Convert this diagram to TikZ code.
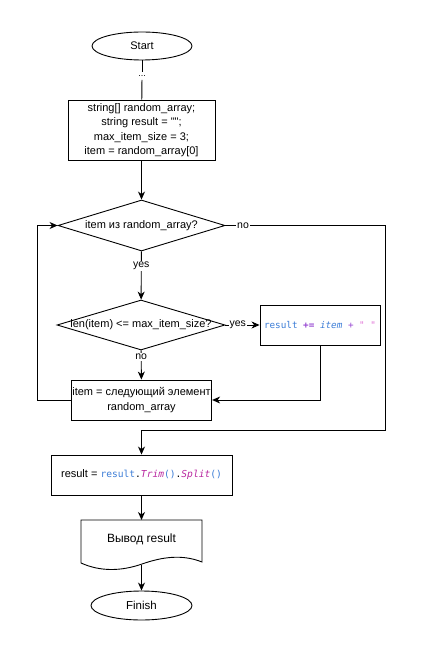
\documentclass[tikz,border=0pt]{standalone}
\usepackage{fontspec}
\setmainfont{Liberation Sans}[Ligatures=TeXOff]
\newfontfamily\codefont{DejaVu Sans Mono}[Ligatures=TeXOff]
\usetikzlibrary{shapes.geometric,arrows.meta}
\definecolor{cblue}{RGB}{60,125,215}
\definecolor{cpurple}{RGB}{150,70,210}
\definecolor{cpink}{RGB}{225,115,215}
\definecolor{cmag}{RGB}{185,40,160}
\tikzset{
  base/.style={font=\fontsize{11}{14.5}\selectfont, align=center, line width=0.9pt},
  term/.style={base, draw, ellipse, inner sep=0pt},
  proc/.style={base, draw, rectangle, inner sep=1pt},
  dia/.style={base, draw, diamond, inner sep=0pt},
  txt/.style={base, inner sep=0pt},
  lbl/.style={font=\fontsize{10.5}{12}\selectfont, fill=white, inner sep=1pt},
  arr/.style={line width=0.9pt, -{Stealth[length=8pt,width=7pt,inset=2.5pt]}},
  ln/.style={line width=0.9pt}
}
\begin{document}
\begin{tikzpicture}[x=1pt,y=-1pt]
\useasboundingbox[fill=white] (0,0) rectangle (425,652);

\node[term, minimum width=100pt, minimum height=28pt] (start) at (142,46) {Start};
\node[txt, inner sep=3pt, font=\fontsize{9}{10}\selectfont] (dots) at (142,76) {...};
\node[proc, minimum width=147pt, minimum height=60pt] (init) at (141.5,130)
  {string[] random\_array;\\ string result = "";\\ max\_item\_size = 3;\\ item = random\_array[0]};
\node[dia, minimum width=167pt, minimum height=51pt] (d1) at (141.5,225.5) {};
\node[txt] (d1t) at (d1) {item из random\_array?};
\node[dia, minimum width=168pt, minimum height=50pt] (d2) at (141,325) {};
\node[txt] (d2t) at (d2) {len(item) <= max\_item\_size?};
\node[proc, minimum width=120pt, minimum height=40pt, font=\codefont\fontsize{9.3}{11}\selectfont] (app) at (320,325)
  {\textcolor{cblue}{result} \textcolor{cpurple}{\textbf{+=}} \textcolor{cblue}{\textit{item}} \textcolor{cpurple}{+} \textcolor{cpink}{" "}};
\node[proc, minimum width=131pt, minimum height=40pt] (next) at (141.5,400)
  {item = следующий элемент\\ random\_array};
\node[proc, minimum width=181pt, minimum height=40pt] (res) at (141.5,475)
  {result = {\codefont\fontsize{9.6}{11}\selectfont\textcolor{cblue}{result}.\textcolor{cmag}{\textit{Trim}}\textcolor{cblue}{()}.\textcolor{cmag}{\textit{Split}}\textcolor{cblue}{()}}};

% document shape
\draw[ln] (81,563) -- (81,520) -- (202,520) -- (202,562)
  .. controls (182,554) and (162,557) .. (142,564)
  .. controls (122,571) and (101,572) .. (81,563) -- cycle;
\node[txt, font=\fontsize{12}{14}\selectfont] (doc) at (141.5,539) {Вывод result};
\coordinate (docTop) at (141.5,520);
\coordinate (docBot) at (141.5,565);

\node[term, minimum width=101pt, minimum height=29pt, font=\fontsize{11.5}{14}\selectfont] (fin) at (141.5,605.5) {Finish};

% connectors
\draw[ln] (start) -- (dots);
\draw[ln] (dots) -- (init);
\draw[arr] (init) -- (d1);
\draw[arr] (d1) -- node[lbl, pos=0.3] {yes} (d2);
\draw[arr] (d2.east) -- node[lbl, pos=0.36] {yes} (app.west);
\draw[arr] (d2) -- node[lbl, pos=0.22] {no} (next);
\draw[arr] (app.south) |- (next.east);
\coordinate (loopL) at (37,400);
\draw[arr] (next.west) -- (loopL) |- (d1.west);
\coordinate (c1) at (385,225.5);
\coordinate (c2) at (385,430);
\coordinate (c3) at (141.5,430);
\draw[arr] (d1.east) -- node[lbl, pos=0.11] {no} (c1) -- (c2) -- (c3) -- (res.north);
\draw[arr] (res.south) -- (docTop);
\draw[arr] (docBot) -- (fin.north);
\end{tikzpicture}
\end{document}
